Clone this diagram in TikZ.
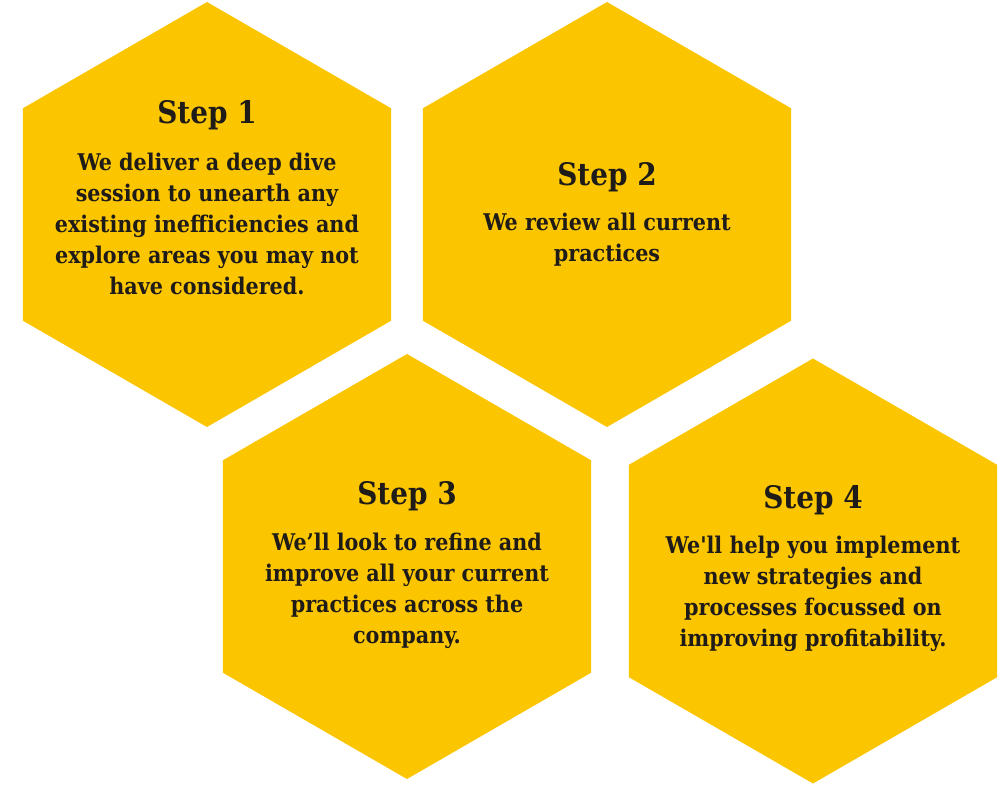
\documentclass[tikz,border=0pt]{standalone}
\usepackage{fontspec}
\setmainfont{DejaVu Serif Condensed}
\usepackage{xcolor}
\usetikzlibrary{shapes.geometric,positioning}
\definecolor{HoneyFill}{HTML}{FBC500}
\definecolor{StepInk}{HTML}{1E1B18}
\tikzset{
  steps/.style={x=1pt,y=-1pt,text=StepInk},
  honey/.style={regular polygon,regular polygon sides=6,shape border rotate=30,
    minimum size=425pt,inner sep=0pt,outer sep=0pt,fill=HoneyFill},
  steptitle/.style={font=\bfseries\fontsize{31}{38}\selectfont,inner sep=0pt,anchor=base},
  % base of a multi-line node = baseline of its last line
  stepbody/.style={font=\bfseries\fontsize{23}{31}\selectfont,align=center,inner sep=0pt,anchor=base},
}

\begin{document}
\begin{tikzpicture}[steps]
  \useasboundingbox (0,0) rectangle (999,785);

  \node[honey] (hexA) at (207,214.5) {};
  \node[honey] (hexB) at (607,214.5) {};
  \node[honey] (hexC) at (407,566.5) {};
  \node[honey] (hexD) at (813,571) {};

  \node[steptitle] (titleA) at (207,123) {Step 1};
  \node[stepbody] (bodyA) at (207,294)
    {We deliver a deep dive\\session to unearth any\\existing inefficiencies and\\explore areas you may not\\have considered.};

  \node[steptitle] (titleB) at (607,185) {Step 2};
  \node[stepbody] (bodyB) at (607,261)
    {We review all current\\practices};

  \node[steptitle] (titleC) at (407,504) {Step 3};
  \node[stepbody] (bodyC) at (407,643)
    {We’ll look to refine and\\improve all your current\\practices across the\\company.};

  \node[steptitle] (titleD) at (813,508) {Step 4};
  \node[stepbody] (bodyD) at (813,646)
    {We\textquotesingle ll help you implement\\new strategies and\\processes focussed on\\improving profitability.};
\end{tikzpicture}
\end{document}
